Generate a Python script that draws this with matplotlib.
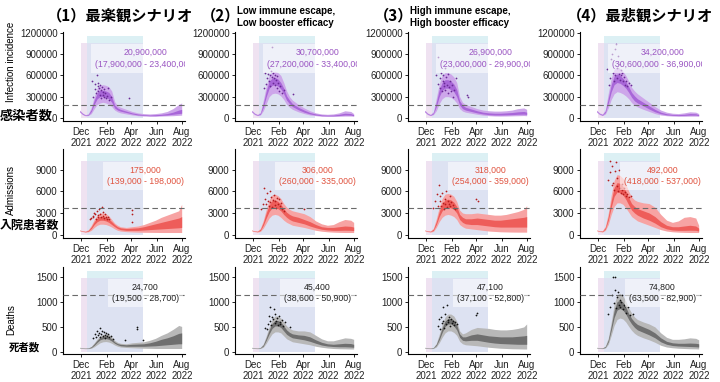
import pandas as pd
import matplotlib
matplotlib.use("Agg")
import matplotlib.pyplot as plt

plt.rcParams["font.family"] = ["Liberation Sans", "DejaVu Sans"]
JP = ["Noto Sans CJK JP", "DejaVu Sans"]

# model output dates
band_dates = ["2021-11-28", "2021-12-05", "2021-12-12", "2021-12-19", "2021-12-26",
              "2022-01-02", "2022-01-09", "2022-01-16", "2022-01-23", "2022-01-30",
              "2022-02-06", "2022-02-13", "2022-02-20", "2022-02-27", "2022-03-06",
              "2022-03-20", "2022-04-03", "2022-04-17", "2022-05-01", "2022-05-15",
              "2022-05-29", "2022-06-12", "2022-06-26", "2022-07-10", "2022-07-24",
              "2022-07-31"]

scenario_titles = ["（1）最楽観シナリオ", "Low immune escape,\nLow booster efficacy",
                   "High immune escape,\nHigh booster efficacy", "（4）最悲観シナリオ"]

# infections (thousands)
inf_hi95 = [[110, 70, 45, 60, 150, 300, 420, 460, 470, 460, 440, 380, 230, 170, 150, 120, 90, 70, 60, 55, 60, 70, 90, 130, 190, 210],
            [110, 70, 50, 80, 250, 450, 600, 650, 660, 640, 600, 500, 380, 300, 250, 190, 140, 100, 70, 55, 50, 55, 70, 100, 90, 60],
            [110, 70, 50, 90, 280, 480, 600, 640, 640, 620, 580, 500, 300, 220, 190, 160, 130, 110, 100, 95, 95, 100, 110, 130, 140, 120],
            [110, 70, 55, 120, 350, 560, 690, 720, 700, 660, 600, 520, 430, 380, 340, 280, 220, 160, 110, 80, 65, 60, 70, 85, 80, 60]]
inf_hi50 = [[100, 60, 38, 50, 120, 250, 350, 390, 390, 380, 360, 300, 180, 140, 120, 95, 70, 55, 45, 40, 45, 50, 60, 80, 110, 120],
            [100, 60, 42, 65, 200, 380, 520, 560, 570, 550, 500, 420, 310, 250, 200, 150, 110, 75, 55, 42, 38, 40, 50, 65, 60, 45],
            [100, 60, 42, 72, 220, 400, 500, 540, 540, 520, 480, 400, 240, 180, 150, 125, 100, 80, 70, 65, 65, 70, 75, 85, 90, 80],
            [100, 60, 46, 95, 280, 470, 590, 620, 600, 560, 510, 440, 360, 310, 270, 220, 170, 120, 80, 58, 48, 45, 50, 60, 58, 45]]
inf_lo50 = [[90, 50, 32, 40, 90, 190, 270, 300, 300, 290, 270, 220, 140, 110, 95, 75, 55, 40, 35, 30, 30, 35, 40, 50, 60, 65],
            [90, 52, 36, 52, 150, 300, 420, 460, 470, 450, 410, 340, 250, 200, 160, 115, 80, 55, 40, 30, 28, 28, 32, 40, 38, 30],
            [90, 52, 36, 58, 160, 300, 390, 420, 420, 400, 370, 300, 180, 130, 110, 90, 70, 55, 45, 40, 40, 42, 45, 50, 52, 48],
            [90, 52, 38, 75, 210, 370, 470, 500, 490, 460, 420, 360, 290, 240, 210, 170, 125, 85, 58, 42, 35, 32, 34, 38, 38, 32]]
inf_lo95 = [[80, 45, 28, 32, 60, 130, 190, 210, 220, 210, 190, 160, 110, 85, 70, 55, 40, 30, 25, 22, 22, 25, 28, 30, 35, 38],
            [80, 45, 30, 40, 100, 200, 300, 340, 350, 340, 310, 260, 190, 150, 120, 85, 60, 40, 30, 22, 20, 20, 22, 25, 25, 22],
            [80, 45, 30, 45, 100, 200, 270, 300, 300, 290, 260, 210, 130, 95, 80, 65, 50, 38, 30, 26, 25, 26, 28, 30, 32, 30],
            [80, 45, 32, 55, 140, 260, 340, 370, 360, 340, 310, 270, 215, 180, 155, 120, 90, 60, 40, 30, 25, 22, 22, 24, 24, 22]]
inf_pt_days = [[27, 30, 33, 35, 37, 38, 40, 41, 42, 44, 45, 46, 48, 49, 50, 52, 53, 55, 56, 58, 60, 62, 65, 68, 72, 115],
               [26, 29, 32, 34, 36, 38, 39, 41, 42, 44, 45, 47, 48, 49, 51, 52, 54, 55, 57, 59, 61, 63, 66, 70, 74, 96],
               [24, 28, 30, 33, 35, 36, 38, 40, 41, 43, 44, 46, 47, 49, 50, 52, 54, 55, 57, 60, 62, 65, 68, 72, 98, 100],
               [22, 27, 30, 32, 35, 37, 38, 40, 42, 43, 45, 46, 48, 50, 51, 53, 55, 56, 58, 60, 62, 64, 67, 70, 75, 80]]
inf_pt_vals = [[520, 300, 410, 480, 350, 600, 450, 380, 500, 420, 330, 460, 390, 280, 440, 370, 320, 410, 300, 350, 280, 310, 420, 250, 290, 285],
               [420, 640, 480, 560, 620, 520, 700, 600, 450, 660, 580, 1000, 640, 500, 560, 610, 470, 540, 590, 420, 500, 380, 450, 350, 400, 340],
               [600, 480, 860, 420, 560, 640, 380, 520, 610, 450, 500, 700, 400, 580, 470, 350, 620, 430, 520, 380, 460, 300, 400, 560, 320, 290],
               [690, 470, 560, 840, 900, 640, 520, 980, 600, 1050, 700, 560, 880, 620, 760, 540, 680, 600, 640, 520, 580, 470, 520, 450, 500, 460]]
inf_total = [("20,900,000", "(17,900,000 - 23,400,000)"), ("30,700,000", "(27,200,000 - 33,400,000)"),
             ("26,900,000", "(23,000,000 - 29,900,000)"), ("34,200,000", "(30,600,000 - 36,900,000)")]

# admissions
adm_hi95 = [[650, 550, 500, 700, 1300, 2100, 2700, 3000, 3000, 2900, 2600, 2100, 1600, 1300, 1100, 1000, 1100, 1200, 1400, 1700, 2000, 2400, 2700, 3000, 3300, 4200],
            [650, 550, 520, 900, 2000, 3500, 4800, 5500, 5600, 5400, 5000, 4300, 3800, 3500, 3300, 3100, 2900, 2500, 1900, 1500, 1300, 1400, 1800, 2100, 2000, 1700],
            [650, 550, 520, 900, 2200, 3800, 5000, 5600, 5700, 5600, 5300, 4600, 3400, 3000, 2900, 2900, 3000, 2900, 2800, 2700, 2700, 2800, 3000, 3200, 3500, 4000],
            [650, 550, 550, 1200, 3000, 5500, 7500, 8300, 8200, 7800, 7000, 6000, 5200, 4800, 4600, 4400, 4300, 3800, 2800, 2000, 1700, 1900, 2400, 2500, 2300, 1300]]
adm_hi50 = [[620, 500, 450, 600, 1100, 1800, 2300, 2500, 2500, 2400, 2200, 1800, 1400, 1100, 950, 850, 900, 950, 1100, 1300, 1500, 1700, 1900, 2100, 2300, 2500],
            [620, 500, 460, 750, 1700, 3000, 4100, 4700, 4800, 4600, 4200, 3600, 3100, 2800, 2600, 2400, 2100, 1800, 1400, 1100, 1000, 1000, 1100, 1200, 1150, 1050],
            [620, 500, 460, 750, 1800, 3200, 4300, 4800, 4900, 4800, 4500, 3900, 2800, 2400, 2200, 2200, 2300, 2200, 2100, 2000, 2000, 2100, 2200, 2300, 2400, 2500],
            [620, 500, 480, 1000, 2500, 4700, 6500, 7200, 7100, 6700, 6000, 5100, 4300, 3900, 3600, 3300, 3000, 2500, 1800, 1300, 1100, 1100, 1200, 1300, 1200, 900]]
adm_lo50 = [[580, 460, 400, 500, 850, 1400, 1800, 2000, 2000, 1900, 1700, 1400, 1100, 850, 700, 600, 600, 600, 650, 700, 750, 800, 850, 900, 950, 1000],
            [580, 460, 410, 600, 1300, 2300, 3200, 3700, 3800, 3600, 3300, 2800, 2400, 2100, 1900, 1700, 1500, 1200, 950, 750, 650, 600, 600, 620, 600, 560],
            [580, 460, 410, 600, 1400, 2500, 3300, 3700, 3800, 3700, 3500, 3000, 2100, 1700, 1500, 1400, 1400, 1300, 1200, 1100, 1050, 1050, 1050, 1050, 1050, 1050],
            [580, 460, 420, 800, 2000, 3800, 5300, 5900, 5800, 5500, 4900, 4100, 3400, 3000, 2700, 2300, 2000, 1600, 1100, 800, 650, 600, 600, 620, 600, 500]]
adm_lo95 = [[540, 420, 350, 400, 600, 1000, 1300, 1450, 1450, 1400, 1250, 1050, 800, 600, 500, 420, 380, 350, 330, 320, 310, 300, 300, 300, 300, 300],
            [540, 420, 360, 450, 900, 1600, 2300, 2700, 2800, 2700, 2400, 2000, 1700, 1500, 1300, 1150, 1000, 800, 600, 480, 400, 350, 320, 300, 300, 300],
            [540, 420, 360, 450, 1000, 1800, 2400, 2700, 2800, 2700, 2500, 2100, 1400, 1100, 900, 800, 700, 600, 500, 450, 400, 380, 360, 350, 350, 350],
            [540, 420, 370, 600, 1400, 2800, 3900, 4400, 4400, 4200, 3700, 3100, 2500, 2200, 1900, 1600, 1300, 1000, 700, 500, 400, 350, 320, 300, 300, 300]]
adm_pt_days = [[22, 25, 28, 30, 32, 34, 36, 38, 40, 42, 44, 46, 48, 50, 52, 54, 56, 58, 60, 62, 65, 68, 122, 122, 123],
               [20, 24, 27, 30, 32, 34, 36, 38, 40, 42, 44, 46, 48, 50, 52, 54, 56, 58, 60, 62, 64, 67, 70, 75, 122],
               [18, 22, 26, 28, 31, 33, 35, 37, 39, 41, 43, 45, 47, 49, 51, 53, 55, 57, 59, 61, 64, 67, 71, 121, 124],
               [24, 28, 30, 33, 35, 37, 39, 41, 43, 45, 47, 49, 51, 53, 55, 57, 59, 61, 63, 65, 67, 70, 74, 80]]
adm_pt_vals = [[2100, 2300, 2600, 2400, 3000, 2800, 2200, 3300, 2700, 2500, 3600, 2900, 2400, 3800, 3100, 2600, 2300, 2800, 2500, 2200, 2400, 2100, 3400, 2900, 1700],
               [3500, 4200, 6400, 5000, 4300, 5800, 4700, 3900, 6000, 4500, 5200, 3800, 4800, 5500, 4100, 4600, 3700, 5100, 4300, 4900, 3900, 4400, 3600, 3300, 3500],
               [3700, 4700, 5600, 4000, 6800, 4600, 5300, 3900, 5800, 4400, 3600, 5000, 4200, 6100, 3800, 4700, 4300, 5400, 3900, 4500, 4100, 3700, 3500, 4900, 4600],
               [7500, 8600, 10200, 6800, 9500, 7200, 6200, 8800, 10100, 6700, 7800, 6000, 9000, 6500, 5800, 7000, 6200, 5600, 6400, 5900, 5400, 5600, 5200, 5300]]
adm_total = [("175,000", "(139,000 - 198,000)"), ("306,000", "(260,000 - 335,000)"),
             ("318,000", "(254,000 - 359,000)"), ("492,000", "(418,000 - 537,000)")]

# deaths
dth_hi95 = [[90, 80, 75, 80, 110, 180, 260, 320, 350, 360, 350, 300, 230, 190, 170, 160, 180, 190, 200, 230, 270, 330, 380, 450, 530, 510],
            [90, 80, 75, 90, 160, 320, 500, 650, 720, 720, 680, 600, 520, 470, 440, 420, 420, 400, 330, 260, 220, 220, 250, 280, 270, 250],
            [90, 80, 75, 90, 170, 350, 550, 700, 760, 760, 720, 620, 420, 360, 380, 450, 490, 480, 470, 450, 440, 440, 450, 470, 500, 560],
            [90, 80, 80, 120, 280, 600, 950, 1150, 1180, 1130, 1020, 880, 780, 700, 650, 600, 560, 500, 380, 290, 250, 250, 260, 280, 270, 240]]
dth_hi50 = [[85, 75, 70, 75, 100, 160, 230, 290, 310, 320, 300, 260, 200, 165, 150, 140, 150, 155, 160, 180, 210, 250, 280, 320, 370, 380],
            [85, 75, 70, 82, 140, 280, 440, 570, 630, 630, 600, 520, 440, 390, 360, 340, 330, 300, 240, 190, 160, 150, 160, 170, 165, 150],
            [85, 75, 70, 82, 150, 300, 480, 620, 670, 670, 630, 540, 360, 300, 300, 340, 360, 340, 320, 310, 300, 300, 300, 310, 320, 330],
            [85, 75, 74, 105, 240, 520, 830, 1010, 1040, 1000, 900, 770, 670, 600, 550, 500, 450, 380, 280, 210, 180, 170, 170, 175, 170, 160]]
dth_lo50 = [[80, 70, 65, 68, 85, 130, 190, 240, 260, 265, 250, 215, 170, 140, 120, 110, 110, 110, 110, 115, 120, 130, 140, 150, 160, 160],
            [80, 70, 65, 74, 115, 230, 360, 470, 520, 520, 490, 420, 350, 310, 280, 260, 240, 210, 170, 135, 115, 105, 100, 100, 95, 90],
            [80, 70, 65, 74, 125, 240, 390, 510, 560, 560, 520, 440, 290, 230, 220, 230, 230, 210, 190, 175, 165, 160, 155, 150, 150, 150],
            [80, 70, 68, 90, 200, 430, 690, 840, 870, 840, 760, 650, 560, 490, 440, 390, 340, 280, 200, 150, 125, 115, 110, 105, 100, 95]]
dth_lo95 = [[75, 65, 60, 62, 70, 100, 140, 180, 200, 205, 195, 170, 135, 110, 95, 85, 80, 75, 70, 68, 65, 65, 65, 65, 65, 65],
            [75, 65, 60, 66, 90, 170, 270, 360, 400, 400, 380, 320, 260, 230, 200, 180, 160, 140, 110, 90, 75, 65, 60, 58, 55, 55],
            [75, 65, 60, 66, 95, 180, 290, 380, 420, 420, 390, 330, 210, 160, 140, 130, 120, 105, 90, 80, 70, 65, 60, 58, 55, 55],
            [75, 65, 62, 75, 150, 330, 530, 650, 680, 660, 600, 510, 430, 370, 330, 280, 240, 190, 130, 95, 80, 70, 65, 60, 58, 55]]
dth_pt_days = [[30, 34, 37, 39, 41, 43, 45, 47, 49, 51, 53, 55, 57, 59, 61, 63, 65, 68, 72, 78, 105, 134, 134, 150],
               [30, 33, 36, 38, 40, 42, 44, 46, 48, 50, 52, 54, 56, 58, 60, 62, 64, 66, 69, 72, 76, 90],
               [28, 31, 34, 36, 38, 40, 42, 44, 46, 48, 50, 52, 54, 56, 58, 60, 62, 64, 67, 70, 75, 120, 122],
               [25, 30, 33, 36, 38, 40, 42, 44, 46, 48, 50, 52, 54, 56, 58, 60, 62, 65, 68, 72, 76, 85]]
dth_pt_vals = [[280, 350, 300, 420, 330, 380, 470, 300, 360, 410, 320, 390, 340, 280, 370, 310, 350, 290, 320, 260, 240, 500, 460, 230],
               [480, 450, 560, 720, 620, 900, 540, 700, 650, 870, 580, 760, 610, 680, 530, 720, 600, 560, 640, 520, 590, 500],
               [520, 650, 450, 700, 580, 900, 620, 480, 760, 550, 940, 640, 590, 700, 520, 650, 580, 610, 540, 600, 560, 740, 780],
               [760, 900, 1150, 1500, 980, 1250, 1500, 880, 1100, 1200, 950, 1050, 900, 1000, 1150, 870, 950, 920, 780, 900, 750, 760]]
dth_total = [("24,700", "(19,500 - 28,700)"), ("45,400", "(38,600 - 50,900)"),
             ("47,100", "(37,100 - 52,800)"), ("74,800", "(63,500 - 82,900)")]

rows = [
    dict(lo95=inf_lo95, lo50=inf_lo50, hi50=inf_hi50, hi95=inf_hi95, pd=inf_pt_days, pv=inf_pt_vals,
         tot=inf_total, scale=1000, ymax=1220000, ymin=-45000, yticks=[0, 300000, 600000, 900000, 1200000],
         thresh=180000, c_out="#cda6ea", c_in="#a866d8", c_pt="#6a2a96", c_txt="#9a55c2"),
    dict(lo95=adm_lo95, lo50=adm_lo50, hi50=adm_hi50, hi95=adm_hi95, pd=adm_pt_days, pv=adm_pt_vals,
         tot=adm_total, scale=1, ymax=11800, ymin=-500, yticks=[0, 3000, 6000, 9000],
         thresh=3700, c_out="#f7a3a3", c_in="#ee5d5a", c_pt="#b51c1c", c_txt="#e0533f"),
    dict(lo95=dth_lo95, lo50=dth_lo50, hi50=dth_hi50, hi95=dth_hi95, pd=dth_pt_days, pv=dth_pt_vals,
         tot=dth_total, scale=1, ymax=1715, ymin=-52, yticks=[0, 500, 1000, 1500],
         thresh=1140, c_out="#b8b8b8", c_in="#6f6f6f", c_pt="#111111", c_txt="#222222"),
]

W, H = 720, 382
fig = plt.figure(figsize=(7.2, 3.82), dpi=100)


def fx(x):
    return x / W


def fy(y):
    return 1 - y / H


col_left = [63, 235, 408, 580]
row_span = [(31.7, 121), (149.3, 238.3), (266.7, 354.3)]
t = pd.to_datetime(band_dates)
day0 = pd.Timestamp("2021-12-01")
tick_dates = pd.to_datetime(["2021-12-01", "2022-02-01", "2022-04-01", "2022-06-01", "2022-08-01"])
tick_labels = ["Dec\n2021", "Feb\n2022", "Apr\n2022", "Jun\n2022", "Aug\n2022"]

for r, row in enumerate(rows):
    top, bot = row_span[r]
    for c in range(4):
        ax = fig.add_axes([fx(col_left[c]), fy(bot), 122 / W, (bot - top) / H])
        s = row["scale"]
        ax.set_xlim(pd.Timestamp("2021-10-19"), pd.Timestamp("2022-08-08"))
        ax.set_ylim(row["ymin"], row["ymax"])
        yb = (0 - row["ymin"]) / (row["ymax"] - row["ymin"])
        # policy periods
        ax.axvspan(pd.Timestamp("2021-12-01"), pd.Timestamp("2021-12-15"), ymin=yb, ymax=0.87,
                   color="#efe2f1", lw=0, zorder=0)
        ax.axvspan(pd.Timestamp("2021-12-15"), pd.Timestamp("2022-04-30"), ymin=0.87, ymax=0.955,
                   color="#dcf0f4", lw=0, zorder=0)
        ax.axvspan(pd.Timestamp("2021-12-15"), pd.Timestamp("2022-04-30"), ymin=yb, ymax=0.87,
                   color="#dde2f2", lw=0, zorder=0)

        lo95 = [v * s for v in row["lo95"][c]]
        hi95 = [v * s for v in row["hi95"][c]]
        lo50 = [v * s for v in row["lo50"][c]]
        hi50 = [v * s for v in row["hi50"][c]]
        ax.fill_between(t, lo95, hi95, color=row["c_out"], lw=0, zorder=2)
        ax.fill_between(t, lo50, hi50, color=row["c_in"], lw=0, zorder=3)

        pdays = [day0 + pd.Timedelta(days=d) for d in row["pd"][c]]
        pvals = [v * s for v in row["pv"][c]]
        ax.scatter(pdays, pvals, s=1.6, color=row["c_pt"], lw=0, zorder=4)

        ax.axhline(row["thresh"], color="#6a6a6a", ls=(0, (5, 3)), lw=0.8, zorder=5)

        l1, l2 = row["tot"][c]
        ax.text(0.675, 0.70, l1 + "\n" + l2, transform=ax.transAxes, ha="center", va="center",
                multialignment="center", fontsize=6.3, color=row["c_txt"], linespacing=1.4,
                clip_on=True, zorder=6,
                bbox=dict(boxstyle="square,pad=0.45", fc="white", ec="none", alpha=0.55))

        ax.set_xticks(tick_dates)
        ax.set_xticklabels(tick_labels)
        ax.set_yticks(row["yticks"])
        ax.set_yticklabels([str(v) for v in row["yticks"]])
        ax.tick_params(labelsize=7, length=2.5, width=0.7, pad=1.5, colors="#222222")
        for side in ["top", "right"]:
            ax.spines[side].set_visible(False)
        for side in ["left", "bottom"]:
            ax.spines[side].set_linewidth(0.8)
        ax.set_facecolor("none")

# titles
fig.text(fx(120), fy(15), scenario_titles[0], family=JP, fontsize=11, fontweight="bold",
         ha="center", va="center")
fig.text(fx(640), fy(15), scenario_titles[3], family=JP, fontsize=11, fontweight="bold",
         ha="center", va="center")
fig.text(fx(240), fy(15), "（2）", family=JP, fontsize=11, fontweight="bold", ha="right", va="center")
fig.text(fx(237), fy(17), scenario_titles[1], fontsize=7, fontweight="bold", ha="left", va="center",
         linespacing=1.15)
fig.text(fx(413), fy(15), "（3）", family=JP, fontsize=11, fontweight="bold", ha="right", va="center")
fig.text(fx(410), fy(17), scenario_titles[2], fontsize=7, fontweight="bold", ha="left", va="center",
         linespacing=1.15)

# row labels
fig.text(fx(11), fy(62), "Infection incidence", rotation=90, fontsize=7, ha="center", va="center")
fig.text(fx(11), fy(190), "Admissions", rotation=90, fontsize=7, ha="center", va="center")
fig.text(fx(11), fy(320), "Deaths", rotation=90, fontsize=7, ha="center", va="center")
fig.text(fx(26), fy(116), "感染者数", family=JP, fontsize=9.5, fontweight="bold", ha="center", va="center")
fig.text(fx(29), fy(225), "入院患者数", family=JP, fontsize=8.6, fontweight="bold", ha="center", va="center")
fig.text(fx(24), fy(347), "死者数", family=JP, fontsize=7.5, fontweight="bold", ha="center", va="center")

fig.savefig("out.png", dpi=100)
